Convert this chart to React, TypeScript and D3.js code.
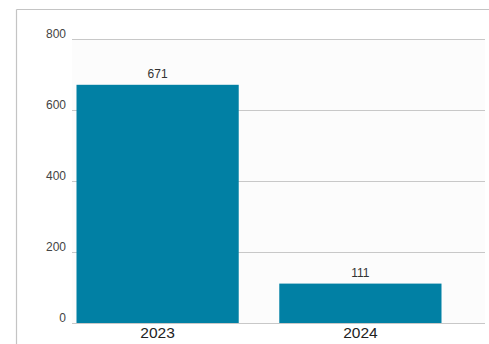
import React from "react";
import * as d3 from "d3";

const categories: string[] = ["2023", "2024"];
const values: number[] = [671, 111];
const yTicks: number[] = [0, 200, 400, 600, 800];

const W = 489;
const H = 344;

export default function App() {
  const plotLeft = 72;
  const plotRight = 485;
  const y = d3.scaleLinear().domain([0, 800]).range([323, 39]);
  const x = d3
    .scaleBand<string>()
    .domain(categories)
    .range([76.5, 441.5])
    .paddingInner(0.2)
    .paddingOuter(0);
  const font = "'Liberation Sans', Arial, sans-serif";
  return (
    <svg
      width={W}
      height={H}
      style={{ position: "fixed", left: 0, top: 0, display: "block", background: "#fff" }}
    >
      <line x1={16.5} y1={9.5} x2={W} y2={9.5} stroke="#c4c4c4" strokeWidth={1.2} />
      <line x1={16.5} y1={9.5} x2={16.5} y2={H} stroke="#c4c4c4" strokeWidth={1.2} />
      <rect x={plotLeft} y={y(800)} width={plotRight - plotLeft} height={y(0) - y(800)} fill="#fcfcfc" />
      {yTicks.map((t) => (
        <g key={t}>
          <line
            x1={plotLeft}
            x2={plotRight}
            y1={Math.round(y(t)) + 0.5}
            y2={Math.round(y(t)) + 0.5}
            stroke="#c8c8c8"
            strokeWidth={1}
          />
          <text
            x={66}
            y={y(t) - 1}
            textAnchor="end"
            fontFamily={font}
            fontSize={12}
            fill="#444"
          >
            {t}
          </text>
        </g>
      ))}
      {categories.map((c, i) => (
        <g key={c}>
          <rect
            x={x(c)!}
            y={y(values[i])}
            width={x.bandwidth()}
            height={y(0) - y(values[i])}
            fill="#0180a4"
          />
          <text
            x={x(c)! + x.bandwidth() / 2}
            y={y(values[i]) - 7}
            textAnchor="middle"
            fontFamily={font}
            fontSize={12}
            fill="#333"
          >
            {values[i]}
          </text>
          <text
            x={x(c)! + x.bandwidth() / 2}
            y={337.5}
            textAnchor="middle"
            fontFamily={font}
            fontSize={15.5}
            fill="#222"
          >
            {c}
          </text>
        </g>
      ))}
    </svg>
  );
}
